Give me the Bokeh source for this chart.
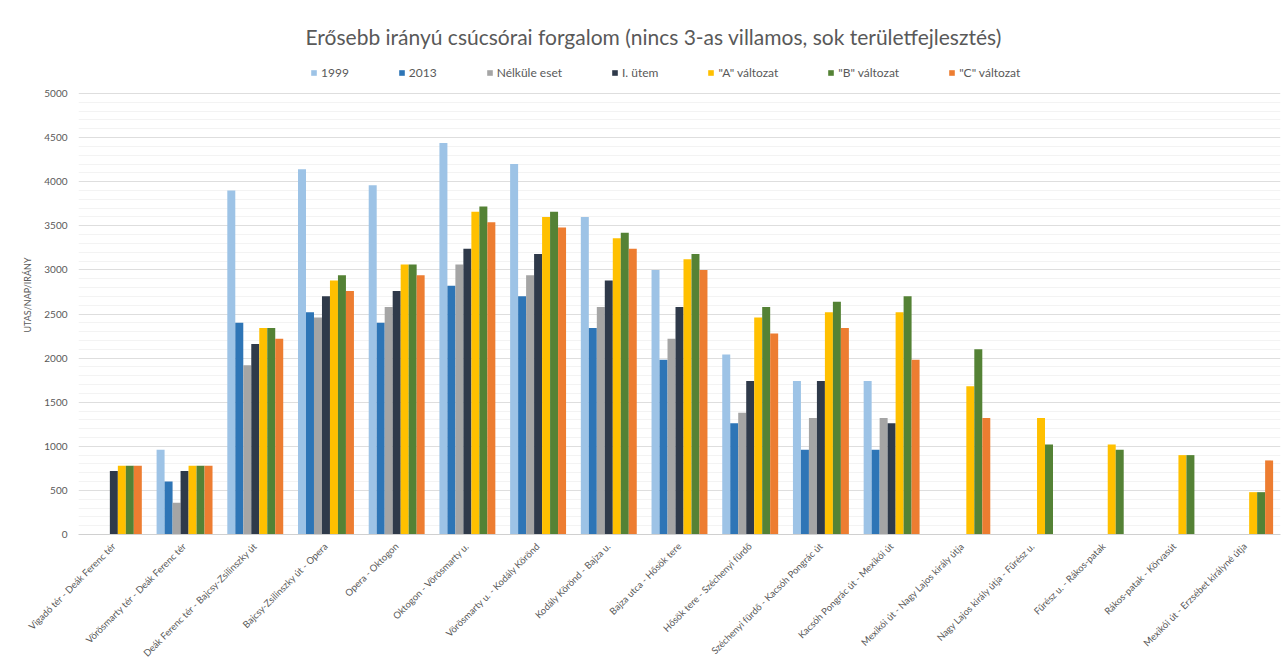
import math
from bokeh.plotting import figure
from bokeh.models import (ColumnDataSource, FactorRange, Range1d, Legend, LegendItem,
                          Title, FixedTicker)
from bokeh.transform import dodge
from bokeh.embed import file_html
from bokeh.resources import INLINE

nan = float("nan")

categories = [
    "Vigadó tér - Deák Ferenc tér",
    "Vörösmarty tér - Deák Ferenc tér",
    "Deák Ferenc tér - Bajcsy-Zsilinszky út",
    "Bajcsy-Zsilinszky út - Opera",
    "Opera - Oktogon",
    "Oktogon - Vörösmarty u.",
    "Vörösmarty u. - Kodály Körönd",
    "Kodály Körönd - Bajza u.",
    "Bajza utca - Hősök tere",
    "Hősök tere - Széchenyi fürdő",
    "Széchenyi fürdő - Kacsóh Pongrác út",
    "Kacsóh Pongrác út - Mexikói út",
    "Mexikói út - Nagy Lajos király útja",
    "Nagy Lajos király útja - Fűrész u.",
    "Fűrész u. - Rákos-patak",
    "Rákos-patak - Körvasút",
    "Mexikói út - Erzsébet királyné útja",
]

series_names = ["1999", "2013", "Nélküle eset", "I. ütem",
                "\"A\" változat", "\"B\" változat", "\"C\" változat"]

v_1999 = [nan, 960, 3900, 4140, 3960, 4440, 4200, 3600, 3000, 2040, 1740, 1740, nan, nan, nan, nan, nan]
v_2013 = [nan, 600, 2400, 2520, 2400, 2820, 2700, 2340, 1980, 1260, 960, 960, nan, nan, nan, nan, nan]
v_nelkule = [nan, 360, 1920, 2460, 2580, 3060, 2940, 2580, 2220, 1380, 1320, 1320, nan, nan, nan, nan, nan]
v_utem1 = [720, 720, 2160, 2700, 2760, 3240, 3180, 2880, 2580, 1740, 1740, 1260, nan, nan, nan, nan, nan]
v_a = [780, 780, 2340, 2880, 3060, 3660, 3600, 3360, 3120, 2460, 2520, 2520, 1680, 1320, 1020, 900, 480]
v_b = [780, 780, 2340, 2940, 3060, 3720, 3660, 3420, 3180, 2580, 2640, 2700, 2100, 1020, 960, 900, 480]
v_c = [780, 780, 2220, 2760, 2940, 3540, 3480, 3240, 3000, 2280, 2340, 1980, 1320, nan, nan, nan, 840]

series_values = [v_1999, v_2013, v_nelkule, v_utem1, v_a, v_b, v_c]
colors = ["#9dc3e6", "#2e75b6", "#a5a5a5", "#2f3a4a", "#ffc000", "#548235", "#ed7d31"]

y_ticks = [0, 500, 1000, 1500, 2000, 2500, 3000, 3500, 4000, 4500, 5000]
y_minor_ticks = [v for v in range(100, 5000, 100) if v % 500 != 0]

FONT = "Lato"
TXT = "#595959"

data = {"cat": categories}
for i, vals in enumerate(series_values):
    data[f"s{i}"] = vals
source = ColumnDataSource(data)

# frame: top at 55 px, bottom at 534 px; 5000 must sit at 93 px
frame_top, frame_bottom, y5000 = 55, 534, 93
y_end = 5000 * (frame_bottom - frame_top) / (frame_bottom - y5000)

p = figure(width=1281, height=672, x_range=FactorRange(*categories),
           y_range=Range1d(0, y_end), output_backend="svg", toolbar_location=None,
           min_border_left=78, min_border_right=1, min_border_top=frame_top,
           min_border_bottom=672 - frame_bottom)
p.outline_line_color = None
p.background_fill_color = "white"
p.border_fill_color = "white"

bw = 0.113
items = []
for i, name in enumerate(series_names):
    r = p.vbar(x=dodge("cat", (i - 3) * bw, range=p.x_range), top=f"s{i}", width=bw,
               source=source, fill_color=colors[i], line_color=None)
    items.append(LegendItem(label=name, renderers=[r]))

legend = Legend(items=items, orientation="horizontal", location=(232, 454),
                glyph_width=7, glyph_height=7, label_standoff=4, spacing=49,
                label_text_font=FONT, label_text_font_size="12px", label_text_color=TXT,
                border_line_color=None, background_fill_color="white",
                background_fill_alpha=1, padding=4, margin=0)
p.add_layout(legend, "center")

p.title = Title(text="Erősebb irányú csúcsórai forgalom (nincs 3-as villamos, sok területfejlesztés)",
                align="left", offset=227, text_font=FONT, text_font_size="21px",
                text_font_style="normal", text_color=TXT, standoff=14)

# y axis
p.yaxis.ticker = FixedTicker(ticks=y_ticks, minor_ticks=y_minor_ticks)
p.yaxis.axis_line_color = None
p.yaxis.major_tick_line_color = None
p.yaxis.minor_tick_line_color = None
p.yaxis.major_label_text_font = FONT
p.yaxis.major_label_text_font_size = "10px"
p.yaxis.major_label_text_color = TXT
p.yaxis.major_label_standoff = 5
p.yaxis.axis_label = "UTAS/NAP/IRÁNY"
p.yaxis.axis_label_text_font = FONT
p.yaxis.axis_label_text_font_size = "9px"
p.yaxis.axis_label_text_font_style = "normal"
p.yaxis.axis_label_text_color = TXT
p.yaxis.axis_label_standoff = 8

# x axis
p.xaxis.axis_line_color = "#d0d0d0"
p.xaxis.major_tick_line_color = None
p.xaxis.minor_tick_line_color = None
p.xaxis.major_label_orientation = math.pi / 4
p.xaxis.major_label_text_font = FONT
p.xaxis.major_label_text_font_size = "9.5px"
p.xaxis.major_label_text_color = TXT
p.xaxis.major_label_standoff = 4

p.xgrid.grid_line_color = None
p.ygrid.grid_line_color = "#dedede"
p.ygrid.minor_grid_line_color = "#f3f3f3"

open("out.html", "w").write(file_html(p, INLINE))
